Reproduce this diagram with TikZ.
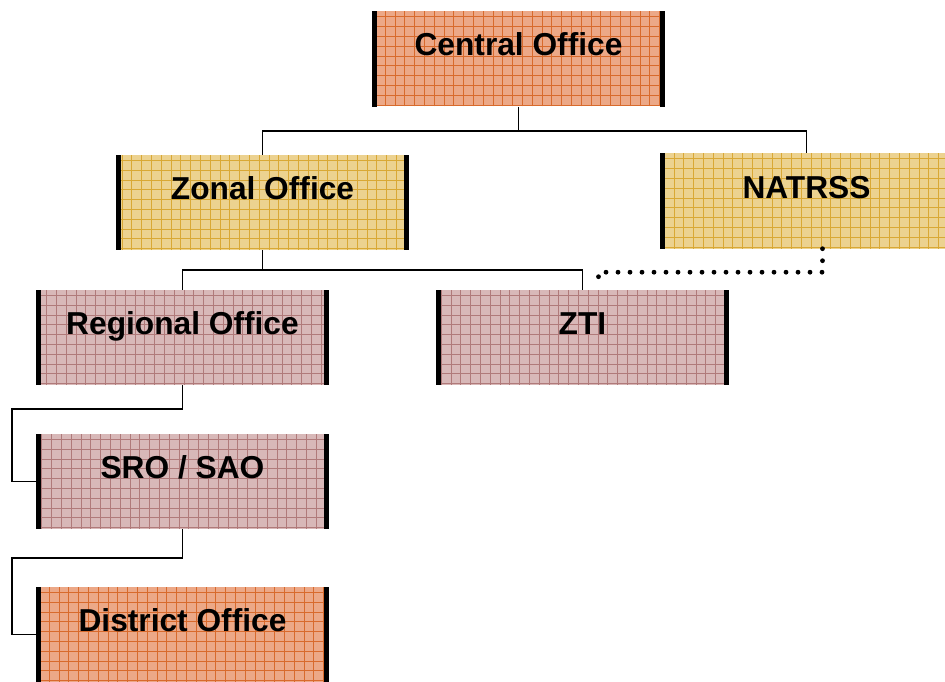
\documentclass[tikz,border=0pt]{standalone}
\usepackage{fontspec}
\setmainfont{Liberation Sans}
\usetikzlibrary{calc}

\definecolor{orgA}{HTML}{ECA887}
\definecolor{orgAline}{HTML}{D86A2C}
\definecolor{orgB}{HTML}{ECD290}
\definecolor{orgBline}{HTML}{D9A835}
\definecolor{orgC}{HTML}{D8B8B8}
\definecolor{orgCline}{HTML}{B07A7A}

\tikzset{
  unitbox/.style={
    rectangle, minimum width=293pt, inner xsep=0pt, inner ysep=0pt,
    text height=44.5pt, text depth=50.5pt,
    font=\bfseries\fontsize{31.7}{36}\selectfont,
    fill=#1,
    path picture={
      \draw[#1line, line width=0.7pt, step=9.8pt]
        (path picture bounding box.south west) grid (path picture bounding box.north east);
    }
  },
  barL/.style={fill=black},
  link/.style={line width=1.9pt, black},
  dotlink/.style={line width=4.8pt, line cap=round, dash pattern=on 0pt off 12pt},
}

\begin{document}
\begin{tikzpicture}[x=1pt, y=-1pt]
\useasboundingbox (0,0) rectangle (945,682);
\begin{scope}
\clip (0,0) rectangle (945,682);

% offices
\node[unitbox=orgA] (central)  at (518.5,59)   {Central Office};
\node[unitbox=orgB] (zonal)    at (262.5,202.5){Zonal Office};
\node[unitbox=orgB] (natrss)   at (806.5,201)  {NATRSS};
\node[unitbox=orgC] (regional) at (182.5,337.5){Regional Office};
\node[unitbox=orgC] (zti)      at (582.5,337.5){ZTI};
\node[unitbox=orgC] (sro)      at (182.5,481.5){SRO / SAO};
\node[unitbox=orgA] (district) at (182.5,634.5){District Office};

% thick side bars
\foreach \b in {central,zonal,natrss,regional,zti,sro,district}{
  \fill[barL] (\b.north west) rectangle ($(\b.south west)+(5,0)$);
}
\foreach \b in {central,zonal,regional,zti,sro,district}{
  \fill[barL] ($(\b.north east)+(-5,0)$) rectangle (\b.south east);
}

% reporting lines
\coordinate (j1) at ($(central.south)+(0,24)$);
\draw[link] (central.south) -- (j1) -| (zonal.north);
\draw[link] (j1) -| (natrss.north);

\coordinate (j2) at ($(zonal.south)+(0,19.5)$);
\draw[link] (zonal.south) -- (j2) -| (regional.north);
\draw[link] (j2) -| (zti.north);

\draw[link] (regional.south) -- ++(0,24) -- ++(-170.5,0) |- (sro.west);
\draw[link] (sro.south) -- ++(0,29) -- ++(-170.5,0) |- (district.west);

% advisory link
\draw[dotlink] ($(natrss.south)+(16,0)$) -- ++(0,23.5) -| ($(zti.north)+(16,-2)$);
\end{scope}
\end{tikzpicture}
\end{document}
